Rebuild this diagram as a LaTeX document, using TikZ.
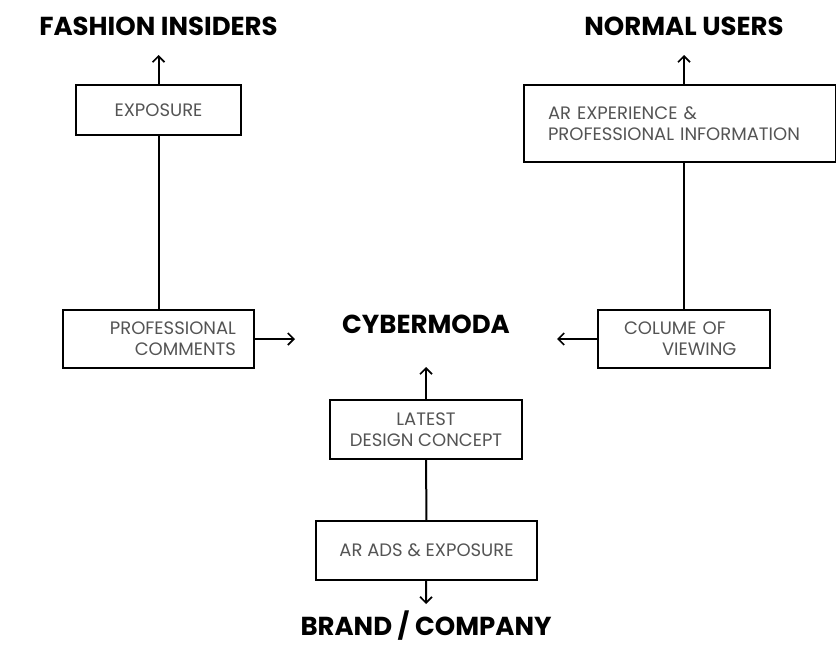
\documentclass[tikz,border=0pt]{standalone}
\usepackage{fontspec}
\setmainfont{Poppins}
\usetikzlibrary{arrows.meta}
\definecolor{boxtext}{gray}{0.33}
\begin{document}
\begin{tikzpicture}[x=1pt,y=-1pt,
  box/.style={draw, line width=1.7pt, inner sep=0pt, text=boxtext,
    font=\fontsize{18}{21}\selectfont},
  title/.style={inner sep=0pt, anchor=base, font=\bfseries\fontsize{26}{28}\selectfont},
  link/.style={line width=2pt},
  flow/.style={link, -{Straight Barb[length=6pt,width=12pt,line width=1.7pt]}}]
\useasboundingbox (0,0) rectangle (836,645);

\node[title] (fashion) at (158.5,35) {FASHION INSIDERS};
\node[title] (users) at (684,35) {NORMAL USERS};
\node[title] (cyber) at (426,333) {CYBERMODA};
\node[title] (brand) at (426,635) {BRAND / COMPANY};

\node[box, minimum width=165pt, minimum height=50pt] (exposure) at (158.5,110) {EXPOSURE};
\node[box, minimum width=191pt, minimum height=58pt, text width=155pt, align=right]
  (comments) at (158.5,339) {PROFESSIONAL\\COMMENTS};
\node[box, minimum width=312pt, minimum height=77pt, text width=264pt, align=left]
  (arexp) at (680,123.5) {AR EXPERIENCE \&\\PROFESSIONAL INFORMATION};
\node[box, minimum width=172pt, minimum height=58pt, text width=120pt, align=left]
  (colume) at (684,339) {COLUME OF\\\hspace*{38pt}VIEWING};
\node[box, minimum width=192pt, minimum height=59pt, align=center]
  (latest) at (426,429.5) {LATEST\\DESIGN CONCEPT};
\node[box, minimum width=221pt, minimum height=59pt] (ads) at (426.5,550.5) {AR ADS \& EXPOSURE};

\coordinate (fashion tip) at (158.5,55);
\coordinate (users tip) at (684,55);
\coordinate (cyber left) at (295,339);
\coordinate (cyber right) at (557,339);
\coordinate (cyber below) at (426,367);
\coordinate (brand tip) at (426,604);

\draw[flow] (exposure) -- (fashion tip);
\draw[link] (exposure) -- (comments);
\draw[flow] (comments) -- (cyber left);
\draw[flow] (colume) -- (cyber right);
\draw[link] (colume.north) -- (colume.north |- arexp.south);
\draw[flow] (arexp.north -| colume.north) -- (users tip);
\draw[flow] (latest) -- (cyber below);
\draw[link] (latest) -- (ads);
\draw[flow] (ads) -- (brand tip);
\end{tikzpicture}
\end{document}
